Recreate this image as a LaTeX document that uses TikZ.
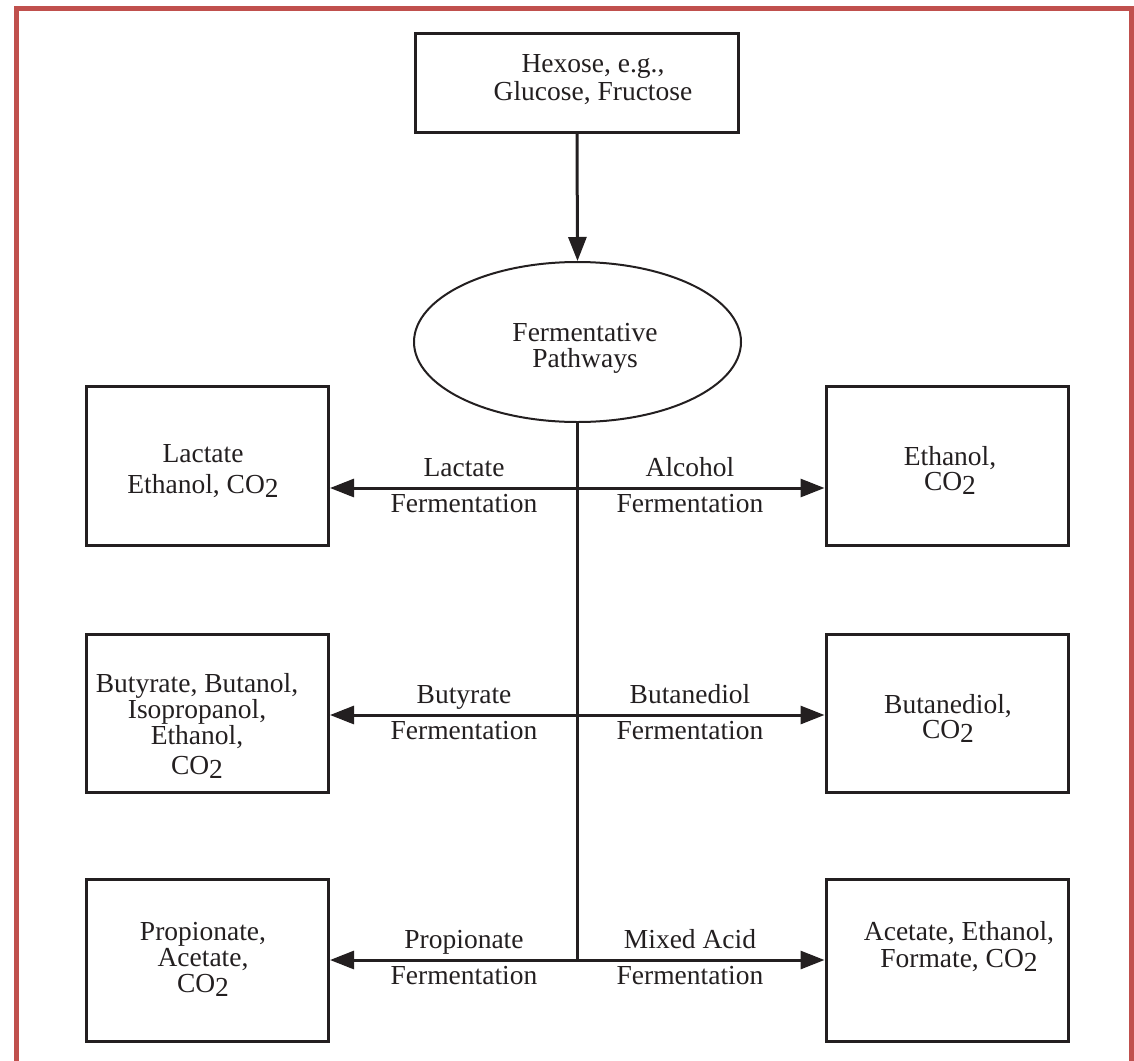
\documentclass[tikz,border=0pt]{standalone}
\usepackage{fontspec}
\setmainfont{Liberation Serif}
\usetikzlibrary{arrows.meta,shapes.geometric}
\definecolor{ink}{HTML}{231F20}
\definecolor{framered}{HTML}{C0504D}
% CO2 with a lowered 2, as set in the chart
\newcommand{\cotwo}{CO\raisebox{-4pt}{2}}

\begin{document}
\begin{tikzpicture}[x=1pt,y=-1pt,
  every node/.style={text=ink},
  % text blocks are placed by the baseline of their last line
  txt/.style={align=center, anchor=base, inner sep=0pt,
              font=\fontsize{27.5}{#1}\selectfont},
  txt/.default=28,
  box/.style={draw=ink, line width=3pt, inner sep=0pt, minimum width=242pt},
  hub/.style={draw=ink, line width=2pt, ellipse, inner sep=0pt,
              minimum width=327pt, minimum height=160pt},
  conn/.style={draw=ink, line width=3pt},
  tip/.style={conn, -{Triangle[length=24pt,width=18pt]}}
]
\useasboundingbox (0,0) rectangle (1134,1060);

% outer frame (runs off the lower edge)
\draw[framered, line width=5pt] (16.5,1065) -- (16.5,8.5) -- (1131.5,8.5) -- (1131.5,1065);

% source and hub
\node[box, minimum width=323pt, minimum height=99pt] (hexose) at (577,83) {};
\node[txt=28] (hexoseTxt) at (593,100) {Hexose, e.g.,\\Glucose, Fructose};
\node[hub] (fp) at (577.5,342) {};
\node[txt=26] (fpTxt) at (585,367) {Fermentative\\Pathways};

% product boxes
\node[box, minimum height=159pt] (lact)  at (207.5,466) {};
\node[box, minimum height=159pt] (alc)   at (947,466) {};
\node[box, minimum height=158pt] (buty)  at (207.5,713.5) {};
\node[box, minimum height=158pt] (butd)  at (947,713.5) {};
\node[box, minimum height=162pt] (prop)  at (207.5,960) {};
\node[box, minimum height=162pt] (mixed) at (947,960) {};

\node[txt=31] (lactTxt)  at (203,493) {Lactate\\Ethanol, \cotwo};
\node[txt=25] (alcTxt)   at (950,490) {Ethanol,\\\cotwo};
\node[txt=26] (butyTxt)  at (197,774) {Butyrate, Butanol,\\Isopropanol,\\Ethanol,\\[4pt]\cotwo};
\node[txt=25] (butdTxt)  at (948,738) {Butanediol,\\\cotwo};
\node[txt=26] (propTxt)  at (203,992) {Propionate,\\Acetate,\\\cotwo};
\node[txt=27] (mixedTxt) at (959,967) {Acetate, Ethanol,\\Formate, \cotwo};

% junctions on the trunk
\coordinate (j1) at (577.5,488);
\coordinate (j2) at (577.5,715);
\coordinate (j3) at (577.5,960);

% connectors
\draw[tip] (hexose.south) -- (fp.north);
\draw[conn] (fp.south) -- (j3);
\draw[tip] (j1) -- (j1 -| lact.east);
\draw[tip] (j1) -- (j1 -| alc.west);
\draw[tip] (j2) -- (j2 -| buty.east);
\draw[tip] (j2) -- (j2 -| butd.west);
\draw[tip] (j3) -- (j3 -| prop.east);
\draw[tip] (j3) -- (j3 -| mixed.west);

% pathway labels
\node[txt=36] (lLact)  at (464,512) {Lactate\\Fermentation};
\node[txt=36] (lAlc)   at (690,512) {Alcohol\\Fermentation};
\node[txt=36] (lButy)  at (464,739) {Butyrate\\Fermentation};
\node[txt=36] (lButd)  at (690,739) {Butanediol\\Fermentation};
\node[txt=36] (lProp)  at (464,984) {Propionate\\Fermentation};
\node[txt=36] (lMixed) at (690,984) {Mixed Acid\\Fermentation};
\end{tikzpicture}
\end{document}
